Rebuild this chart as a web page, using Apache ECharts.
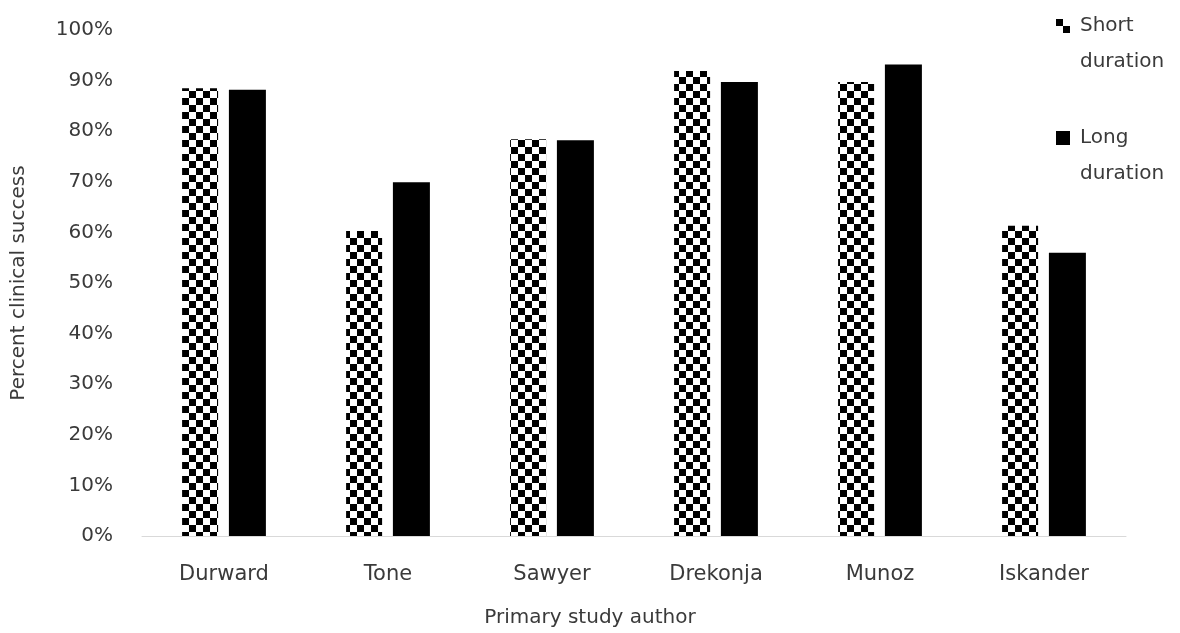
<!DOCTYPE html>
<html>
<head>
<meta charset="utf-8">
<script src="https://cdn.jsdelivr.net/npm/echarts@6/dist/echarts.min.js"></script>
<style>
	html, body { margin: 0; padding: 0; background: #fff; }
	#chart { width: 1180px; height: 633px; }
</style>
</head>
<body>
<div id="chart"></div>
<script>
	// data
	var authors = ['Durward', 'Tone', 'Sawyer', 'Drekonja', 'Munoz', 'Iskander'];
	var shortDuration = [88.5, 60.3, 78.4, 91.9, 89.7, 61.3];
	var longDuration = [88.2, 69.9, 78.2, 89.7, 93.2, 56.0];
	var yTicks = [0, 10, 20, 30, 40, 50, 60, 70, 80, 90, 100];

	// checkerboard fill for the short bars
	function checker() {
		var c = document.createElement('canvas');
		c.width = 14; c.height = 14;
		var ctx = c.getContext('2d');
		ctx.fillStyle = '#fff';
		ctx.fillRect(0, 0, 14, 14);
		ctx.fillStyle = '#000';
		ctx.fillRect(0, 0, 7, 7);
		ctx.fillRect(7, 7, 7, 7);
		return c;
	}

	var font = '"DejaVu Sans", sans-serif';
	var txt = '#3a3a3a';
	var myChart = echarts.init(document.getElementById('chart'), null, { renderer: 'canvas' });
	var option = {
		backgroundColor: '#fff',
		animation: false,
		grid: { left: 142, right: 54, top: 30, bottom: 97, outerBoundsMode: 'none', containLabel: false },
		legend: {
			orient: 'vertical',
			left: 1056,
			top: -28,
			padding: 0,
			itemWidth: 14,
			itemHeight: 14,
			itemGap: 4,
			icon: 'rect',
			data: ['Short\nduration', 'Long\nduration'],
			// leading empty line keeps the first word level with the icon
			formatter: function (name) { return '\n' + name; },
			textStyle: {
				fontFamily: font,
				fontSize: 20,
				color: txt,
				lineHeight: 36,
				padding: [0, 0, 0, 5]
			}
		},
		xAxis: {
			type: 'category',
			data: authors,
			name: 'Primary study author',
			nameLocation: 'middle',
			nameGap: 72,
			nameTextStyle: { fontFamily: font, fontSize: 20, color: txt, padding: [0, 88, 0, 0] },
			axisTick: { show: false },
			axisLine: { lineStyle: { color: '#d9d9d9', width: 1 } },
			axisLabel: { fontFamily: font, fontSize: 21, color: txt, margin: 28 }
		},
		yAxis: {
			type: 'value',
			min: 0,
			max: 100,
			interval: 10,
			name: 'Percent clinical success',
			nameLocation: 'middle',
			nameGap: 113,
			nameTextStyle: { fontFamily: font, fontSize: 20, color: txt },
			splitLine: { show: false },
			axisLine: { show: false },
			axisTick: { show: false },
			axisLabel: {
				fontFamily: font, fontSize: 20, color: txt, margin: 29,
				formatter: function (v) { return yTicks.indexOf(v) >= 0 ? v + '%' : ''; }
			}
		},
		series: [
			{
				name: 'Short\nduration',
				type: 'bar',
				data: shortDuration,
				barWidth: 36,
				barGap: '30%',
				itemStyle: { color: { image: checker(), repeat: 'repeat' } }
			},
			{
				name: 'Long\nduration',
				type: 'bar',
				data: longDuration,
				barWidth: 37,
				itemStyle: { color: '#000' }
			}
		]
	};
	myChart.setOption(option);
</script>
</body>
</html>
